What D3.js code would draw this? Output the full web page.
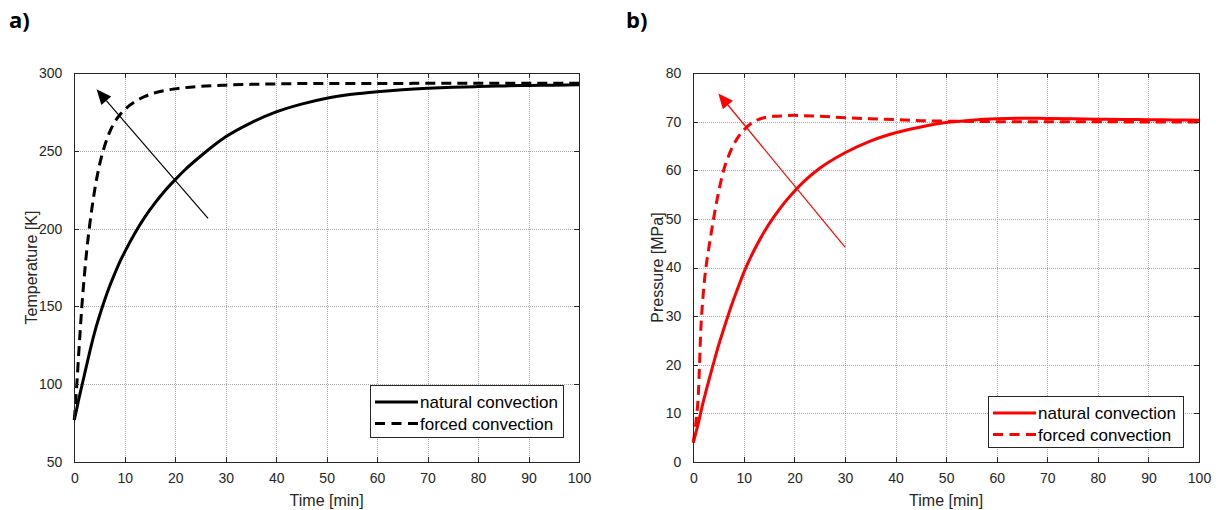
<!DOCTYPE html>
<html>
<head>
<meta charset="utf-8">
<script src="https://cdn.jsdelivr.net/npm/d3@7"></script>
<style>
  html, body { margin: 0; padding: 0; background: #fff; }
  svg { display: block; }
  .axis path, .axis line { stroke: #262626; }
</style>
</head>
<body>
<svg id="fig" width="1216" height="510"></svg>
<script>
// Sample times [min], shared by all four curves
const timeMin = [0, 0.5, 1, 1.5, 2, 2.5, 3, 4, 5, 6, 7, 8, 9, 10, 12, 14, 16, 18, 20, 22, 25,
                 30, 35, 40, 45, 50, 55, 60, 65, 70, 75, 80, 85, 90, 95, 100];

// Temperature [K]
const tempNatural = [77, 84.5, 92, 99, 106, 113, 120, 133, 144, 154, 163, 171, 178.5, 185, 197, 207.5,
                     216.5, 224.5, 231.5, 238, 246.5, 259, 268, 275, 280, 283.8, 286.3, 288, 289.3,
                     290.2, 290.8, 291.3, 291.7, 292, 292.2, 292.4];
const tempForced  = [77, 100, 126, 150, 170, 187, 201, 224, 241, 253, 262, 268.5, 273, 276.5, 281.5, 285,
                     287.3, 288.8, 289.8, 290.6, 291.4, 292.2, 292.7, 293, 293.2, 293.3, 293.3, 293.3,
                     293.3, 293.4, 293.4, 293.4, 293.4, 293.4, 293.4, 293.4];

// Pressure [MPa]
const presNatural = [4, 6, 8, 10.3, 12.5, 14.5, 16.5, 20.3, 24, 27.3, 30.5, 33.5, 36.3, 39, 43.5, 47.3,
                     50.5, 53.3, 55.7, 57.8, 60.4, 63.6, 66, 67.7, 68.9, 69.8, 70.3, 70.6, 70.7,
                     70.65, 70.6, 70.5, 70.45, 70.4, 70.35, 70.3];
const presForced  = [4, 8, 14, 27.5, 35, 40, 43.5, 50, 55.5, 60, 63, 65.3, 67, 68.3, 70, 70.8,
                     71.1, 71.2, 71.3, 71.2, 71.1, 70.8, 70.6, 70.4, 70.2, 70.1, 70.05, 70, 70,
                     70, 70, 70, 69.95, 69.9, 69.9, 69.9];

// Axis ticks
const timeTicks = [0, 10, 20, 30, 40, 50, 60, 70, 80, 90, 100];
const tempTicks = [50, 100, 150, 200, 250, 300];
const presTicks = [0, 10, 20, 30, 40, 50, 60, 70, 80];

// Legend entries
const seriesNames = ["natural convection", "forced convection"];

// Trend arrows (tail -> head) in data units
const tempArrowTime = [26.5, 4.4];
const tempArrowVal  = [206.6, 289.5];
const presArrowTime = [30, 4.95];
const presArrowVal  = [44.2, 75.8];

const svg = d3.select("#fig");
const FONT = '"Liberation Sans", Arial, sans-serif';

function panel(cfg) {
  const g = svg.append("g");
  const x = d3.scaleLinear().domain([0, 100]).range([cfg.left, cfg.right]);
  const y = d3.scaleLinear().domain(cfg.yDomain).range([cfg.bottom, cfg.top]);

  // dotted grid
  const grid = g.append("g").attr("shape-rendering", "crispEdges")
    .attr("stroke", "#a8a8a8").attr("stroke-width", 1).attr("stroke-dasharray", "1,1");
  grid.selectAll("line.vx").data(timeTicks.slice(1, -1)).join("line")
    .attr("x1", d => Math.round(x(d)) + 0.5).attr("x2", d => Math.round(x(d)) + 0.5)
    .attr("y1", cfg.top).attr("y2", cfg.bottom);
  grid.selectAll("line.hy").data(cfg.yTicks.slice(1, -1)).join("line")
    .attr("y1", d => Math.round(y(d)) + 0.5).attr("y2", d => Math.round(y(d)) + 0.5)
    .attr("x1", cfg.left).attr("x2", cfg.right);

  // curves
  const line = (vals) => d3.line()
    .x((d, i) => x(timeMin[i])).y(d => y(d))
    .curve(d3.curveMonotoneX)(vals);
  g.append("path").attr("d", line(cfg.natural))
    .attr("fill", "none").attr("stroke", cfg.color).attr("stroke-width", 3);
  g.append("path").attr("d", line(cfg.forced))
    .attr("fill", "none").attr("stroke", cfg.color).attr("stroke-width", 3)
    .attr("stroke-dasharray", "10,6");

  // arrow
  const x1 = x(cfg.arrowT[0]), y1 = y(cfg.arrowV[0]);
  const x2 = x(cfg.arrowT[1]), y2 = y(cfg.arrowV[1]);
  const ang = Math.atan2(y2 - y1, x2 - x1);
  const hl = 15, hw = 6.5;
  const bx = x2 - hl * Math.cos(ang), by = y2 - hl * Math.sin(ang);
  g.append("line").attr("x1", x1).attr("y1", y1).attr("x2", bx).attr("y2", by)
    .attr("stroke", cfg.color).attr("stroke-width", 1.2);
  g.append("path")
    .attr("d", `M${x2},${y2}L${bx + hw * Math.sin(ang)},${by - hw * Math.cos(ang)}L${bx - hw * Math.sin(ang)},${by + hw * Math.cos(ang)}Z`)
    .attr("fill", cfg.color);

  // axes (ticks inward, mirrored on top/right)
  const ax = (gen, tr) => g.append("g").attr("class", "axis")
    .attr("transform", tr).attr("shape-rendering", "crispEdges").call(gen)
    .attr("font-family", FONT).attr("font-size", 14);
  ax(d3.axisBottom(x).tickValues(timeTicks).tickSizeInner(-5).tickSizeOuter(0).tickPadding(11)
      .tickFormat(d3.format("d")), `translate(0,${cfg.bottom})`);
  ax(d3.axisTop(x).tickValues(timeTicks).tickSizeInner(-5).tickSizeOuter(0).tickFormat(""),
      `translate(0,${cfg.top})`);
  ax(d3.axisLeft(y).tickValues(cfg.yTicks).tickSizeInner(-5).tickSizeOuter(0).tickPadding(12)
      .tickFormat(d3.format("d")), `translate(${cfg.left},0)`);
  ax(d3.axisRight(y).tickValues(cfg.yTicks).tickSizeInner(-5).tickSizeOuter(0).tickFormat(""),
      `translate(${cfg.right},0)`);
  g.selectAll(".axis .domain").attr("stroke-width", 1.3);
  g.selectAll(".axis .tick text").attr("fill", "#262626");

  // axis labels
  g.append("text").attr("x", (cfg.left + cfg.right) / 2).attr("y", 506)
    .attr("text-anchor", "middle").attr("font-family", FONT).attr("font-size", 16)
    .attr("fill", "#262626").text("Time [min]");
  g.append("text")
    .attr("transform", `translate(${cfg.yLabelX},${(cfg.top + cfg.bottom) / 2}) rotate(-90)`)
    .attr("text-anchor", "middle").attr("font-family", FONT).attr("font-size", 16)
    .attr("fill", "#262626").text(cfg.yLabel);

  // legend
  const L = cfg.legend;
  const lg = g.append("g");
  lg.append("rect").attr("x", L.x + 0.5).attr("y", L.y + 0.5).attr("width", L.w).attr("height", L.h)
    .attr("fill", "#fff").attr("stroke", "#262626").attr("stroke-width", 1);
  seriesNames.forEach((name, i) => {
    const ry = L.y + 17 + i * 21.6;
    lg.append("line").attr("x1", L.x + 5).attr("x2", L.x + 48).attr("y1", ry).attr("y2", ry)
      .attr("stroke", cfg.color).attr("stroke-width", 3)
      .attr("stroke-dasharray", i === 1 ? "10,6.5" : null);
    lg.append("text").attr("x", L.x + 50).attr("y", ry + 6)
      .attr("font-family", FONT).attr("font-size", 17).attr("fill", "#000").text(name);
  });

  // panel letter
  g.append("text").attr("x", cfg.letterX).attr("y", 28)
    .attr("font-family", '"Open Sans", "DejaVu Sans", sans-serif').attr("font-weight", 700)
    .attr("font-size", 22).attr("fill", "#000").text(cfg.letter);
}

panel({
  left: 74.3, right: 579, top: 73, bottom: 462,
  yDomain: [50, 300], yTicks: tempTicks, color: "#000",
  natural: tempNatural, forced: tempForced,
  arrowT: tempArrowTime, arrowV: tempArrowVal,
  yLabel: "Temperature [K]", yLabelX: 37,
  legend: { x: 370, y: 385, w: 193, h: 52 },
  letter: "a)", letterX: 9
});

panel({
  left: 693.3, right: 1199, top: 73, bottom: 462,
  yDomain: [0, 80], yTicks: presTicks, color: "#ff0000",
  natural: presNatural, forced: presForced,
  arrowT: presArrowTime, arrowV: presArrowVal,
  yLabel: "Pressure [MPa]", yLabelX: 663,
  legend: { x: 988, y: 396, w: 195, h: 51 },
  letter: "b)", letterX: 626
});
</script>
</body>
</html>
